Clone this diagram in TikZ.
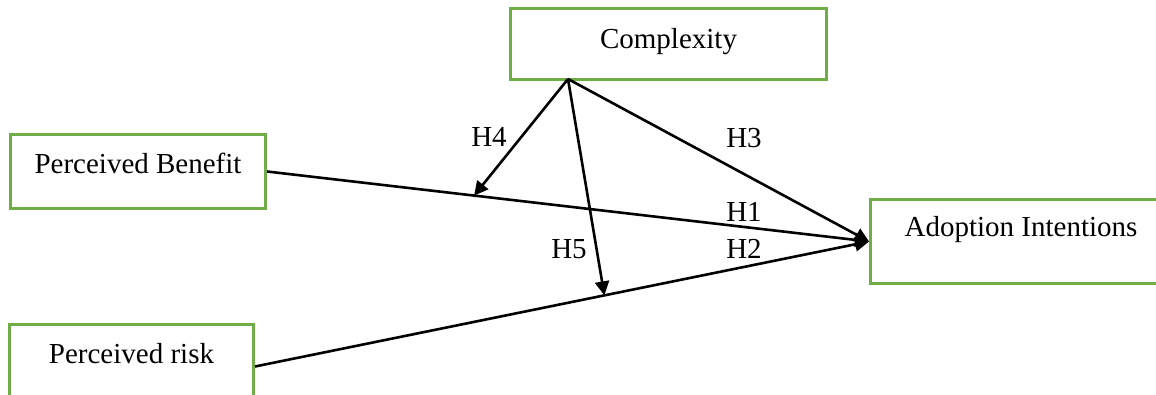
\documentclass[tikz,border=0pt]{standalone}
\usepackage{fontspec}
\setmainfont{Liberation Serif}
\usepackage{tikz}
\usetikzlibrary{arrows.meta,calc}
\definecolor{boxgreen}{HTML}{70AD47}

\tikzset{
  construct/.style={draw=boxgreen, line width=1.5pt, inner sep=0pt, anchor=north west, align=center},
  hyp/.style={anchor=base, inner sep=0pt},
  path/.style={line width=1.3pt, -{Triangle[length=7pt,width=7pt]}}
}

\begin{document}
\begin{tikzpicture}[x=0.5pt, y=-0.5pt, font=\fontsize{14.5}{17}\selectfont]
  \useasboundingbox (0,0) rectangle (1156,395);

  % Constructs
  \node[construct, minimum width=158pt, text height=20pt, text depth=15.5pt] (cx) at (509,7) {Complexity};
  \node[construct, minimum width=127.5pt, text height=19.5pt, text depth=17.5pt] (pb) at (9,133) {Perceived Benefit};
  \node[construct, minimum width=122pt, text height=19.5pt, text depth=22.5pt] (pr) at (8,323) {Perceived risk};
  \node[construct, minimum width=150.5pt, text height=18.5pt, text depth=23.5pt] (ai) at (869,198) {Adoption Intentions};

  % Hub and moderation points
  \coordinate (hub) at (568,79);
  \coordinate (m4) at ($(pb.east)!0.344!(ai.west)$);
  \coordinate (m5) at ($(pr.east)!0.569!(ai.west)$);

  % Paths
  \draw[path] (pb.east) -- (ai.west);
  \draw[path] (pr.east) -- (ai.west);
  \draw[path] (hub) -- (ai.west);
  \draw[path] (hub) -- (m4);
  \draw[path] (hub) -- (m5);

  % Hypotheses
  \node[hyp] (h1) at (744,222) {H1};
  \node[hyp] (h2) at (744,258) {H2};
  \node[hyp] (h3) at (744,148) {H3};
  \node[hyp] (h4) at (489,147) {H4};
  \node[hyp] (h5) at (569,258) {H5};
\end{tikzpicture}
\end{document}
